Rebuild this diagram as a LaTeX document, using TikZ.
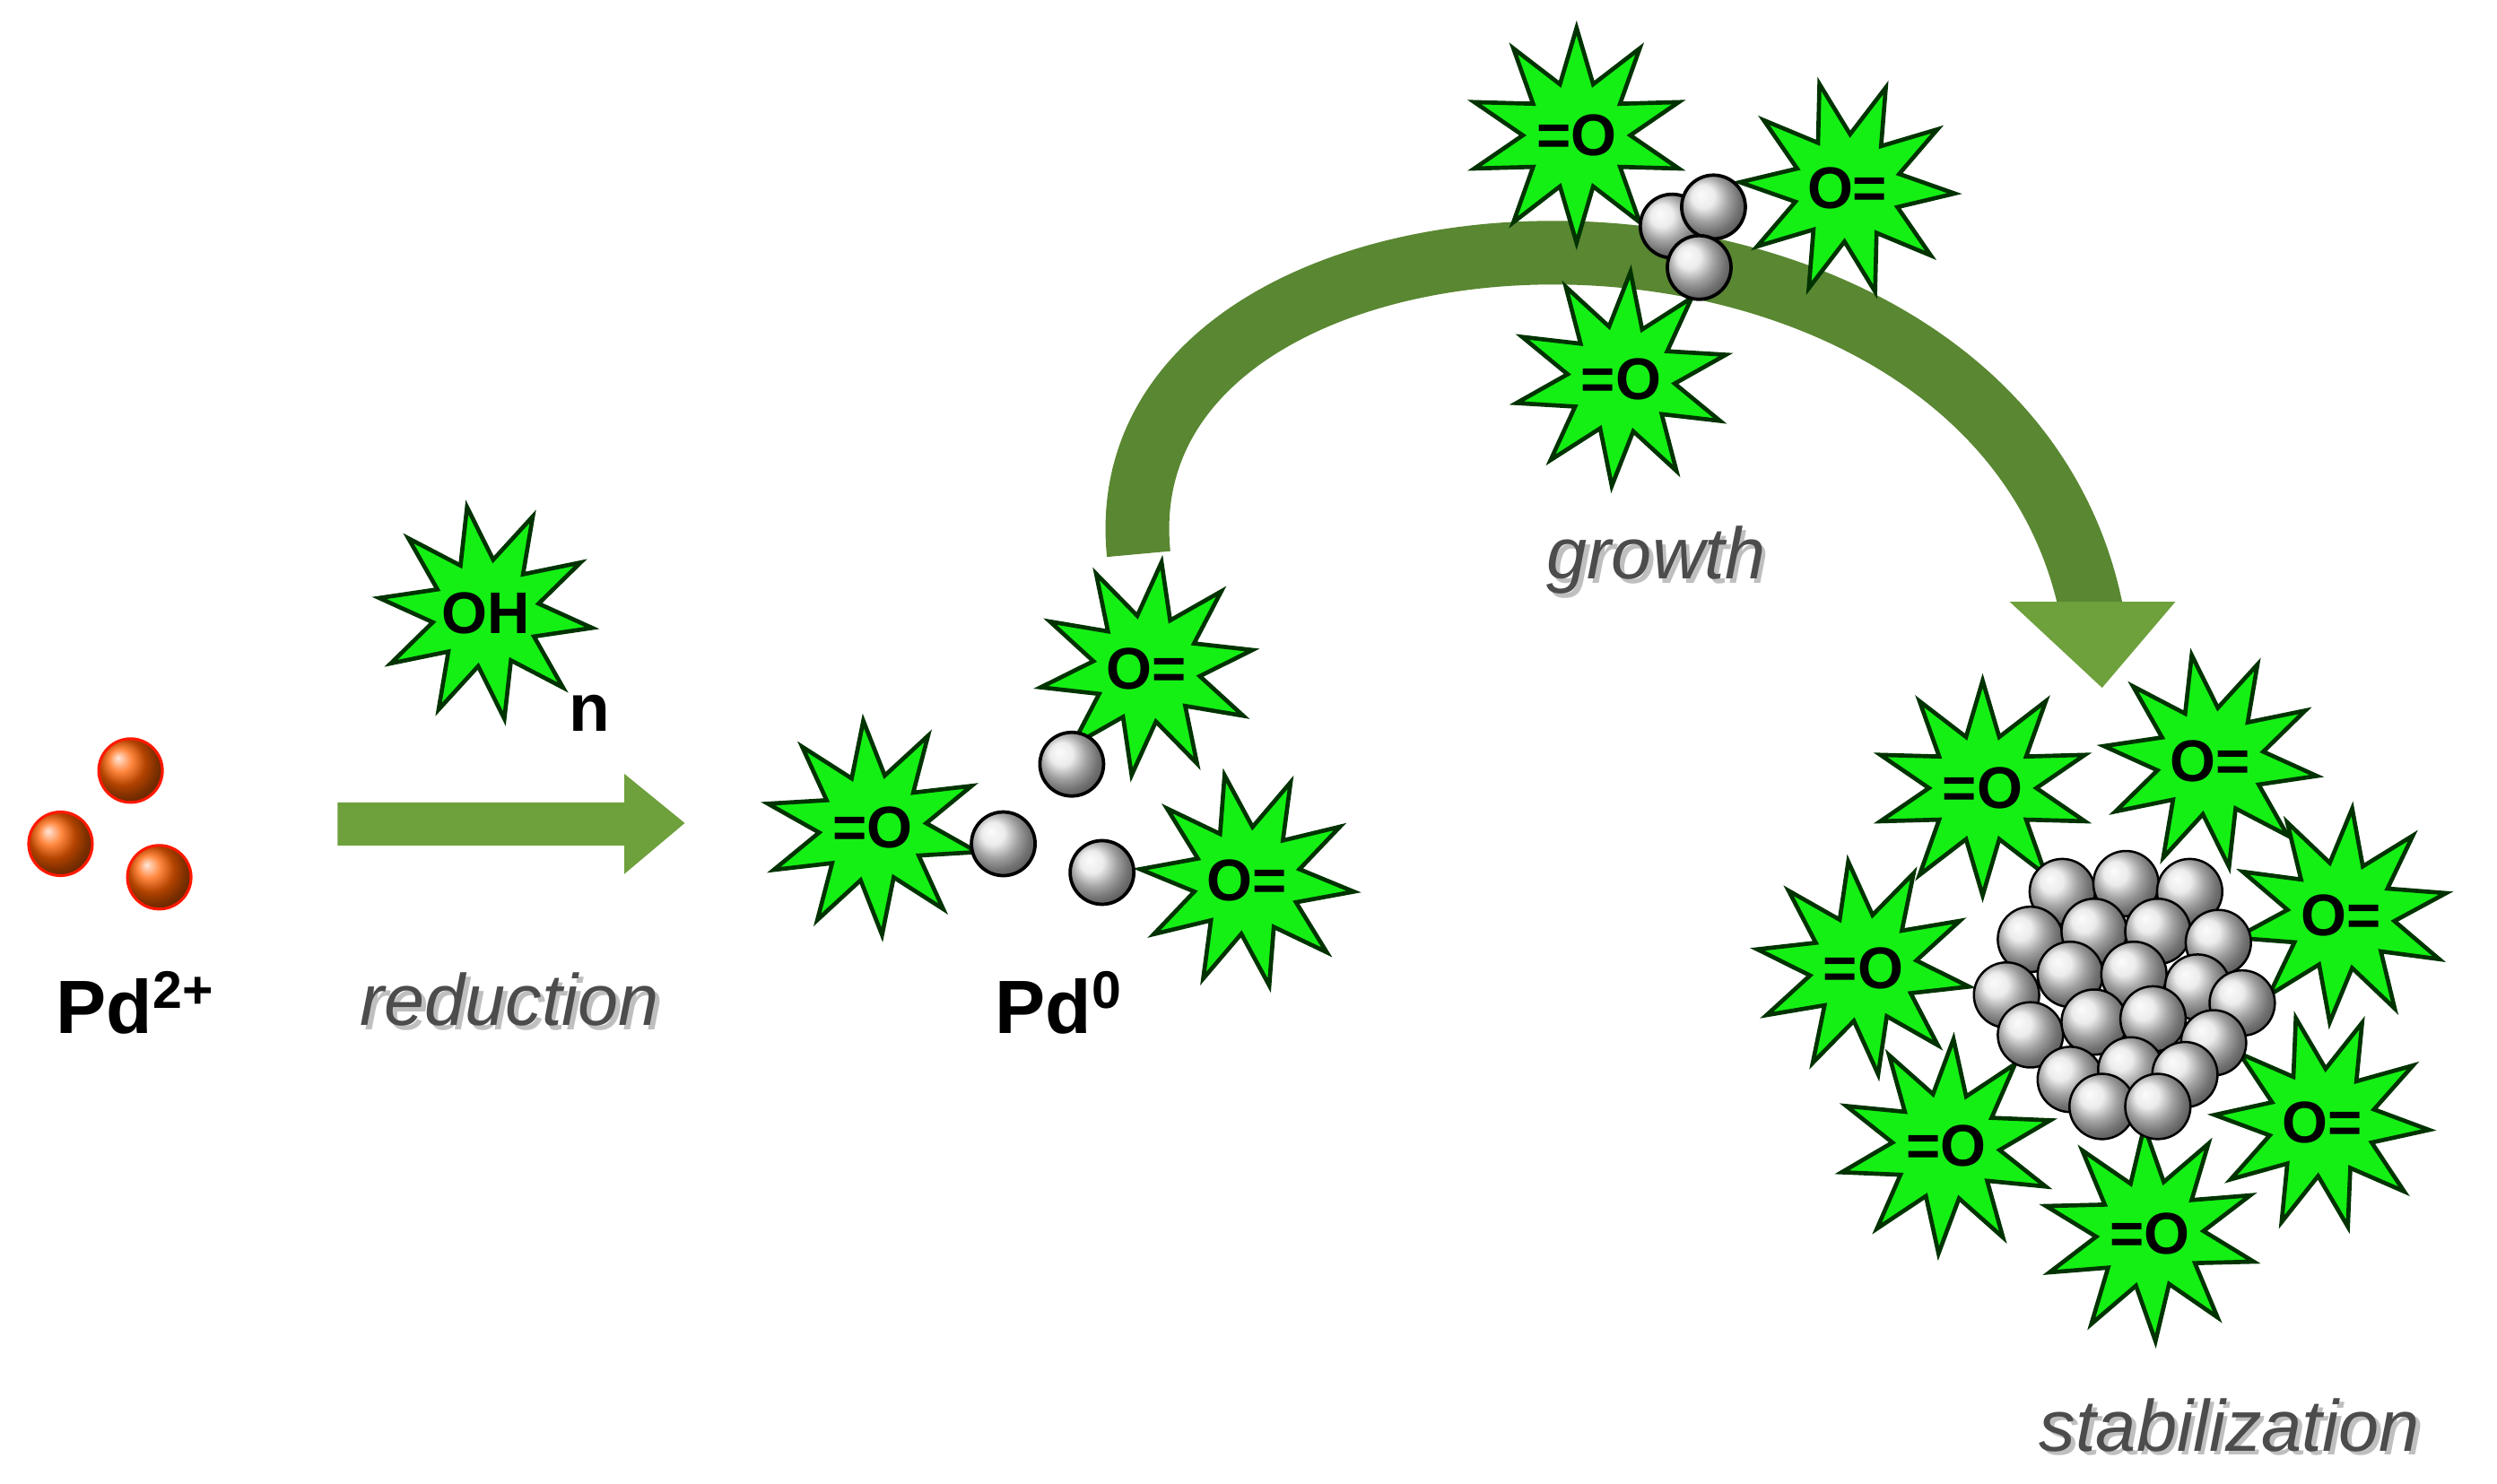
\documentclass[tikz,border=0pt]{standalone}
\usepackage{fontspec}
\setmainfont{Liberation Sans}
\usetikzlibrary{shapes.geometric}
\definecolor{sgreen}{RGB}{20,240,20}
\definecolor{agreen}{RGB}{110,160,60}
\definecolor{dgreen}{RGB}{90,135,50}
\tikzset{
  burst/.style={star, star points=10, star point ratio=2.0, minimum size=2.7cm, fill=sgreen, draw=black!80!green, line width=1.5pt, inner sep=0pt},
  stx/.style={font=\fontsize{21}{21}\selectfont\bfseries},
  pdball/.style={circle, minimum size=0.8cm, inner sep=0pt, draw=black, line width=1.2pt, ball color=white!80!gray},
  redball/.style={circle, minimum size=0.8cm, inner sep=0pt, draw=red!80!orange, line width=1pt, ball color=orange!75!red},
  clball/.style={circle, minimum size=0.82cm, inner sep=0pt, draw=black, line width=0.8pt, ball color=white!80!gray},
  lbl/.style={font=\fontsize{27}{27}\selectfont\bfseries},
  itl/.style={font=\fontsize{26}{26}\selectfont\itshape, text=black!70}
}
\newcommand{\shtext}[3]{\node[itl,text=black!25] at ([xshift=1.5pt,yshift=-1.5pt]#1) {#3};\node[itl] (#2) at (#1) {#3};}
\begin{document}
\begin{tikzpicture}[x=0.02cm,y=-0.02cm]
\useasboundingbox (0,0) rectangle (1568,932);
% Pd2+
\node[redball] (r1) at (82,484) {};
\node[redball] (r2) at (38,530) {};
\node[redball] (r3) at (100,551) {};
\node[lbl] (pd2) at (85,630) {Pd\textsuperscript{2+}};
% reduction arrow
\fill[agreen] (212,504) -- (392,504) -- (392,486) -- (430,517) -- (392,549) -- (392,531) -- (212,531) -- cycle;
\coordinate (ra) at (320,628);
\shtext{ra}{red}{reduction}
\node[burst, rotate=10] (oh) at (305,385) {};
\node[stx] at (oh) {OH};
\node[font=\fontsize{24}{24}\selectfont\bfseries] (n) at (370,448) {n};
% Pd0 stage
\node[burst, rotate=5] (s1) at (548,520) {};
\node[stx] at (s1) {=O};
\node[burst, rotate=-8] (s2) at (720,420) {};
\node[stx] at (s2) {O=};
\node[burst, rotate=12] (s3) at (783,553) {};
\node[stx] at (s3) {O=};
\node[pdball] (b1) at (630,530) {};
\node[pdball] (b2) at (673,480) {};
\node[pdball] (b3) at (692,548) {};
\node[lbl] (pd0) at (665,630) {Pd\textsuperscript{0}};
% big curved arrow
\draw[dgreen, line width=0.8cm] (715,348) .. controls (690,100) and (1250,80) .. (1313,382);
\fill[agreen] (1262,378) -- (1366,378) -- (1320,432) -- cycle;
% growth
\node[burst, rotate=0] (g1) at (990,85) {};
\node[stx] at (g1) {=O};
\node[burst, rotate=15] (g2) at (1160,118) {};
\node[stx] at (g2) {O=};
\node[burst, rotate=-5] (g3) at (1018,238) {};
\node[stx] at (g3) {=O};
\node[pdball] (gb1) at (1050,142) {};
\node[pdball] (gb2) at (1076,130) {};
\node[pdball] (gb3) at (1067,168) {};
\coordinate (ga) at (1040,352);
\shtext{ga}{gro}{growth}
% stabilization
\foreach \n/\x/\y/\r/\t in {t1/1245/495/0/=O, t2/1388/478/10/O=, t3/1470/575/-6/O=, t4/1170/608/8/=O, t5/1222/720/-4/=O, t6/1458/705/14/O=, t7/1350/775/3/=O}{
  \node[burst, rotate=\r] (\n) at (\x,\y) {};
  \node[stx] at (\n) {\t};
}
\foreach \x/\y [count=\i] in {1295/560,1335/555,1375/560,1275/590,1315/585,1355/585,1393/592,1260/625,1300/612,1340/612,1380/620,1408/630,1275/650,1315/642,1352/640,1390/655,1300/678,1338/672,1372/675,1320/695,1355/695}{
  \node[clball] (c\i) at (\x,\y) {};
}
\coordinate (sa) at (1400,895);
\shtext{sa}{stab}{stabilization}
\end{tikzpicture}
\end{document}
